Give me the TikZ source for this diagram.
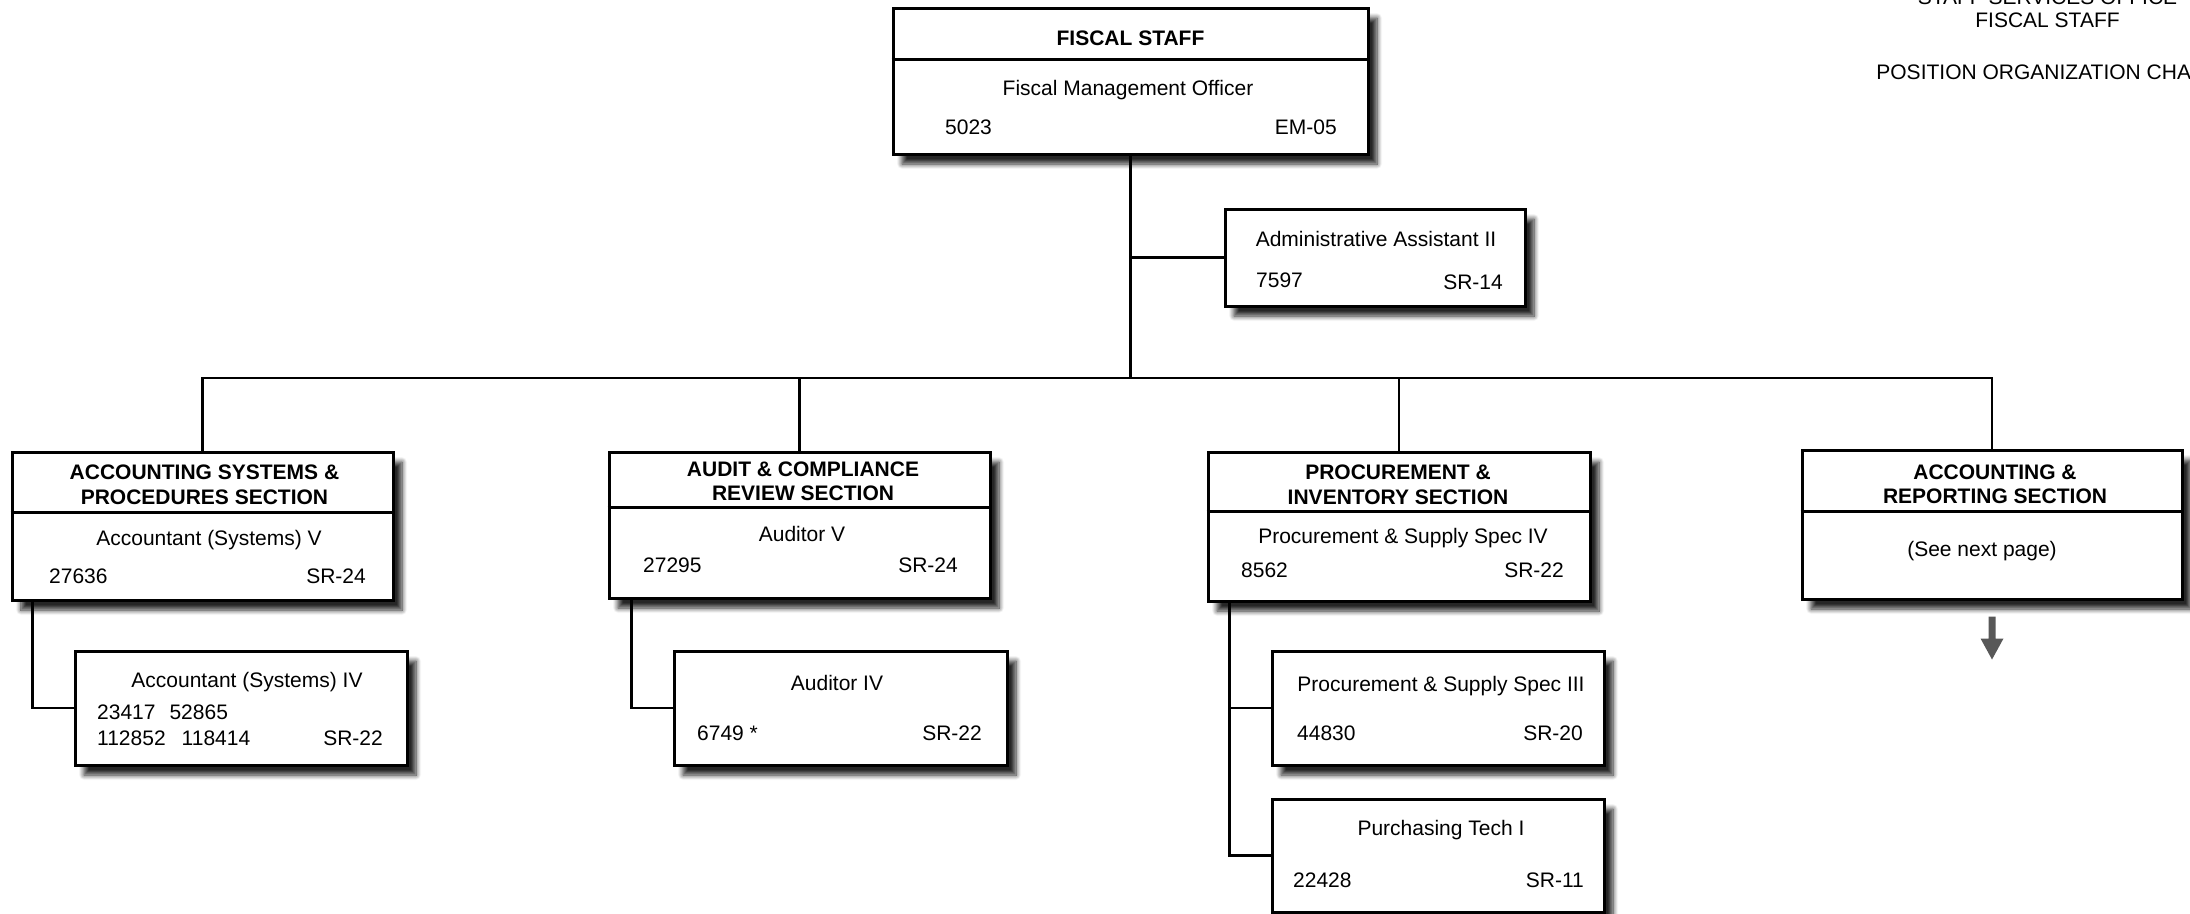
\documentclass[tikz,border=0pt]{standalone}
\usepackage{fontspec}
\setmainfont{Liberation Sans}
\usetikzlibrary{shadows.blur,calc}
\definecolor{arrowgray}{RGB}{88,88,88}
\begin{document}
\begin{tikzpicture}[x=1pt,y=-1pt,
  box/.style={draw=black, line width=3pt, fill=white, rectangle, inner sep=0pt,
    blur shadow={shadow xshift=9pt, shadow yshift=-10pt, shadow blur radius=5pt, shadow blur steps=8, shadow opacity=85}},
  txt/.style={font=\fontsize{21pt}{25pt}\selectfont, inner sep=0pt, anchor=base},
  hd/.style={txt, font=\fontsize{21pt}{25pt}\selectfont\bfseries},
  lt/.style={txt, anchor=base west},
  rt/.style={txt, anchor=base east},
  con/.style={line width=2.2pt, draw=black},
  divline/.style={line width=2.2pt, draw=black},
]
\useasboundingbox (0,0) rectangle (2190,913);
\clip (0,0) rectangle (2190,913);

% boxes
\node[box, minimum width=475, minimum height=146] (top) at (1130.5,81) {};
\node[box, minimum width=300, minimum height=97] (admin) at (1375,257.5) {};
\node[box, minimum width=381, minimum height=148] (b1) at (202.5,526) {};
\node[box, minimum width=332, minimum height=114] (c1) at (241,708) {};
\node[box, minimum width=381, minimum height=146] (b2) at (799.5,525) {};
\node[box, minimum width=333, minimum height=114] (c2) at (840.5,708) {};
\node[box, minimum width=382, minimum height=149] (b3) at (1399,526.5) {};
\node[box, minimum width=332, minimum height=114] (c3a) at (1438,708) {};
\node[box, minimum width=332, minimum height=113] (c3b) at (1438,855.5) {};
\node[box, minimum width=380, minimum height=149] (b4) at (1992,524.5) {};

% dividers
\draw[divline] ($(top.north west)+(0,53)$) -- ($(top.north east)+(0,53)$);
\draw[divline] ($(b1.north west)+(0,62)$) -- ($(b1.north east)+(0,62)$);
\draw[divline] ($(b2.north west)+(0,57)$) -- ($(b2.north east)+(0,57)$);
\draw[divline] ($(b3.north west)+(0,61)$) -- ($(b3.north east)+(0,61)$);
\draw[divline] ($(b4.north west)+(0,63)$) -- ($(b4.north east)+(0,63)$);

% connectors
\coordinate (bus) at (1130.5,378);
\draw[con] (top.south) -- (bus);
\draw[con] (b1.north) -- (b1.north |- bus) -- (b4.north |- bus) -- (b4.north);
\draw[con] (b2.north) -- (b2.north |- bus);
\draw[con] (b3.north) -- (b3.north |- bus);
\draw[con] (top.south |- admin.west) -- (admin.west);
\coordinate (t1) at ($(b1.south west)+(22,0)$);
\coordinate (t2) at ($(b2.south west)+(24,0)$);
\coordinate (t3) at ($(b3.south west)+(23,0)$);
\draw[con] (t1) |- (c1.west);
\draw[con] (t2) |- (c2.west);
\draw[con] (t3) |- (c3b.west);
\draw[con] (t3 |- c3a.west) -- (c3a.west);

% continuation arrow
\fill[arrowgray] ($(b4.south)+(-3.5,16)$) -- ++(7,0) -- ++(0,22) -- ++(8,0) -- ++(-11.5,21) -- ++(-11.5,-21) -- ++(8,0) -- cycle;

% texts: top
\node[hd] (tTitle) at (1130.5,45) {FISCAL STAFF};
\node[txt] (tFMO) at (1128,95) {Fiscal Management Officer};
\node[lt] (tFMOn) at (945,134) {5023};
\node[rt] (tFMOg) at (1337,134) {EM-05};
% admin
\node[txt] (tAA) at (1376,246) {Administrative Assistant II};
\node[lt] (tAAn) at (1256,287) {7597};
\node[rt] (tAAg) at (1503,289) {SR-14};
% section 1
\node[hd] (s1a) at (204.5,479) {ACCOUNTING SYSTEMS \&};
\node[hd] (s1b) at (204.5,504) {PROCEDURES SECTION};
\node[txt] (s1p) at (209,545) {Accountant (Systems) V};
\node[lt] (s1n) at (49,583) {27636};
\node[rt] (s1g) at (366,583) {SR-24};
\node[txt] (c1p) at (247,687) {Accountant (Systems) IV};
\node[lt] (c1n1) at (97,719) {23417\hspace{14pt}52865};
\node[lt] (c1n2) at (97,745) {112852\hspace{16pt}118414};
\node[rt] (c1g) at (383,745) {SR-22};
% section 2
\node[hd] (s2a) at (803,476) {AUDIT \& COMPLIANCE};
\node[hd] (s2b) at (803,500) {REVIEW SECTION};
\node[txt] (s2p) at (802,541) {Auditor V};
\node[lt] (s2n) at (643,572) {27295};
\node[rt] (s2g) at (958,572) {SR-24};
\node[txt] (c2p) at (837,690) {Auditor IV};
\node[lt] (c2n) at (697,740) {6749 *};
\node[rt] (c2g) at (982,740) {SR-22};
% section 3
\node[hd] (s3a) at (1398,479) {PROCUREMENT \&};
\node[hd] (s3b) at (1398,504) {INVENTORY SECTION};
\node[txt] (s3p) at (1403,543) {Procurement \& Supply Spec IV};
\node[lt] (s3n) at (1241,577) {8562};
\node[rt] (s3g) at (1564,577) {SR-22};
\node[txt] (c3ap) at (1441,691) {Procurement \& Supply Spec III};
\node[lt] (c3an) at (1297,740) {44830};
\node[rt] (c3ag) at (1583,740) {SR-20};
\node[txt] (c3bp) at (1441,835) {Purchasing Tech I};
\node[lt] (c3bn) at (1293,887) {22428};
\node[rt] (c3bg) at (1584,887) {SR-11};
% section 4
\node[hd] (s4a) at (1995,479) {ACCOUNTING \&};
\node[hd] (s4b) at (1995,503) {REPORTING SECTION};
\node[txt] (s4p) at (1982,556) {(See next page)};

% title block
\node[txt] (h1) at (2047.5,4) {STAFF SERVICES OFFICE};
\node[txt] (h2) at (2047.5,27.5) {FISCAL STAFF};
\node[txt] (h3) at (2047.5,79.5) {POSITION ORGANIZATION CHART};
\end{tikzpicture}
\end{document}
